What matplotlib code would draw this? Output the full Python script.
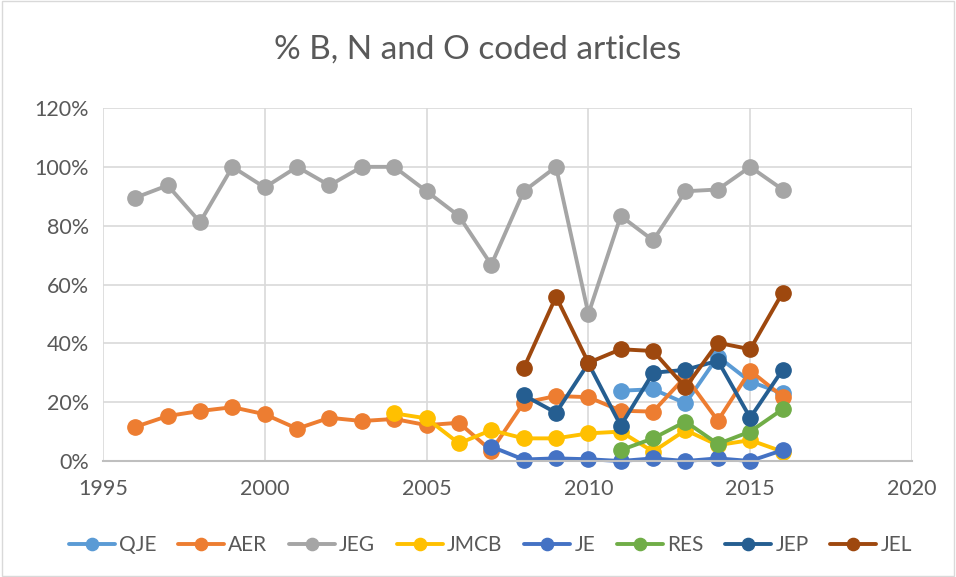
import numpy as np
import matplotlib.pyplot as plt
from matplotlib.ticker import FuncFormatter, MultipleLocator
from matplotlib.patches import Rectangle

names = ["QJE", "AER", "JEG", "JMCB", "JE", "RES", "JEP", "JEL"]
colors_ = ["#5B9BD5", "#ED7D31", "#A5A5A5", "#FFC000", "#4472C4", "#70AD47", "#255E91", "#9E480E"]

years_qje = list(range(2011, 2017))
qje = [23.9, 24.4, 19.6, 35.5, 27.0, 23.0]

years_aer = list(range(1996, 2017))
aer = [11.6, 15.3, 17.0, 18.3, 15.9, 11.0, 14.7, 13.6, 14.3, 12.2, 13.0, 3.5,
       19.8, 22.1, 21.7, 17.1, 16.8, 28.7, 13.7, 30.7, 21.9]

years_jeg = list(range(1996, 2017))
jeg = [89.5, 93.7, 81.2, 100, 93.0, 100, 93.7, 100, 100, 91.7, 83.3, 66.7,
       91.7, 100, 50.0, 83.3, 75.0, 91.7, 92.3, 100, 92.3]

years_jmcb = list(range(2004, 2017))
jmcb = [16.2, 14.5, 6.0, 10.5, 7.7, 7.7, 9.4, 10.0, 3.2, 10.5, 5.4, 7.1, 3.2]

years_je = list(range(2007, 2017))
je = [4.9, 0.5, 0.9, 0.6, 0.0, 0.9, 0.0, 0.9, 0.0, 3.7]

years_res = list(range(2011, 2017))
res = [3.7, 7.7, 13.4, 5.8, 10.0, 17.6]

years_jep = list(range(2008, 2017))
jep = [22.4, 16.4, 33.2, 12.0, 30.0, 31.0, 34.1, 14.7, 31.0]

years_jel = list(range(2008, 2017))
jel = [31.5, 55.9, 33.4, 38.0, 37.4, 25.0, 40.2, 38.0, 57.2]

series = [(years_qje, qje), (years_aer, aer), (years_jeg, jeg), (years_jmcb, jmcb),
          (years_je, je), (years_res, res), (years_jep, jep), (years_jel, jel)]

plt.rcParams['font.family'] = ['Lato', 'DejaVu Sans']

fig = plt.figure(figsize=(9.56, 5.77), dpi=100)
ax = fig.add_axes([0.1077, 0.201, 0.954 - 0.1077, 0.8128 - 0.201])

for (x, y), name, c in zip(series, names, colors_):
    ax.plot(x, np.array(y) / 100, color=c, lw=2.8, marker="o", ms=11,
            label=name, solid_capstyle="round", clip_on=False)

ax.set_xlim(1995, 2020)
ax.set_ylim(0, 1.2)
ax.xaxis.set_major_locator(MultipleLocator(5))
ax.yaxis.set_major_locator(MultipleLocator(0.2))
ax.yaxis.set_major_formatter(FuncFormatter(lambda v, p: f"{v*100:.0f}%"))
ax.grid(True, color="#D9D9D9", lw=1.2)
ax.set_axisbelow(True)
for s in ["top", "right", "left"]:
    ax.spines[s].set_visible(False)
ax.spines["bottom"].set_color("#BFBFBF")
ax.spines["bottom"].set_linewidth(1.5)
ax.tick_params(length=0, labelsize=15.5, labelcolor="#595959")
ax.tick_params(axis="x", pad=13)
ax.tick_params(axis="y", pad=10)

fig.text(0.5, 1 - 50 / 577, "% B, N and O coded articles", ha="center", va="center",
         fontsize=24, color="#595959")

fig.legend(loc="center", bbox_to_anchor=(0.513, 1 - 545 / 577), ncol=8, frameon=False,
           fontsize=15, labelcolor="#595959", handlelength=2.2, columnspacing=1.05,
           handletextpad=0.2, markerscale=0.8)

fig.patches.append(Rectangle((0.002, 0.002), 0.996, 0.996, transform=fig.transFigure,
                             fill=False, edgecolor="#D9D9D9", lw=1))

fig.savefig("out.png", dpi=100)
